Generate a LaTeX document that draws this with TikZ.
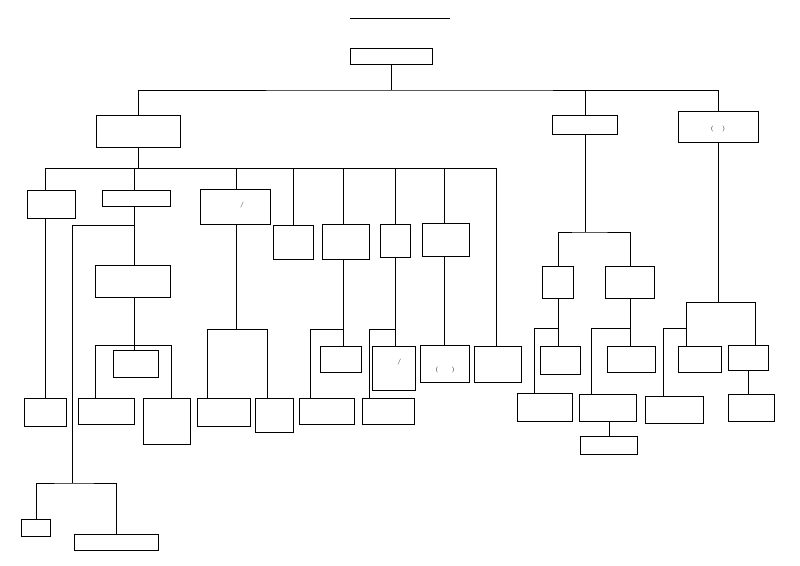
\documentclass[tikz,border=0pt]{standalone}
\begin{document}
\begin{tikzpicture}[x=0.03cm,y=-0.03cm,
  box/.style={draw,line width=0.6pt,fill=white,align=center,inner sep=1pt,font=\fontsize{5}{7}\selectfont},
  ln/.style={line width=0.6pt}]
\useasboundingbox (0,0) rectangle (800,566);
\newcommand\bx[5]{\node[box,minimum width={#3*0.03cm},minimum height={#4*0.03cm}] (#1) at (#2) {#5};}
\node[font=\fontsize{7}{8}\selectfont\bfseries] (title) at (400,18) {\underline{කෑගල්ල ප්‍රාදේශීය ලේකම් කාර්යාලයීය සංවිධාන සැලැස්ම}};
\bx{ds}{391,56}{82}{16}{ප්‍රාදේශීය ලේකම්}
\bx{ads}{138,131}{84}{32}{සහකාර\\ප්‍රාදේශීය ලේකම්}
\bx{acc}{585,125}{65}{19}{ගණකාධිකාරී}
\bx{ad}{718,127}{80}{31}{සහකාර අධ්‍යක්ෂ\\(සැලසුම්)}
\bx{agn}{51,204}{48}{28}{පරිපාලන\\ග්‍රාම නිලධාරී}
\bx{ao}{136,198}{68}{16}{පරිපාලන නිලධාරී}
\bx{sam}{235,207}{70}{35}{මූලස්ථාන සමෘද්ධි\\කළමනාකරු /\\සමෘද්ධි කළමනාකරු}
\bx{tr}{293,242}{40}{34}{භාෂා\\පරිවර්තක}
\bx{adr}{346,242}{47}{35}{අතිරේක\\දිස්ත්‍රික්\\රෙජිස්ට්‍රාර්}
\bx{lo}{395,241}{30}{33}{ඉඩම්\\නිලධාරී}
\bx{sso}{446,240}{47}{33}{සමාජ සේවා\\නිලධාරී}
\bx{gn}{45,412}{42}{28}{ග්‍රාම\\නිලධාරී}
\bx{cmso}{133,281}{75}{32}{ප්‍රධාන කළමනාකරණ\\සේවා නිලධාරී}
\bx{dev1}{136,364}{45}{27}{සංවර්ධන\\නිලධාරී}
\bx{mso1}{106,411}{56}{26}{කළමනාකරණ\\සේවා නිලධාරී}
\bx{ict}{167,421}{47}{46}{තොරතුරු\\තාක්ෂණ හා\\සන්නිවේදන\\සහකාර}
\bx{ma}{224,412}{53}{28}{කළමනාකරණ\\සහකාර}
\bx{sdo}{274,415}{38}{34}{සමෘද්ධි\\සංවර්ධන\\නිලධාරී}
\bx{dev2}{341,359}{41}{26}{සංවර්ධන\\නිලධාරී}
\bx{mso2}{327,411}{55}{26}{කළමනාකරණ\\සේවා නිලධාරී}
\bx{dev3}{394,368}{43}{44}{සංවර්ධන\\නිලධාරී /\\ක්ෂේත්‍ර\\නිලධාරී}
\bx{mso3}{388,411}{52}{26}{කළමනාකරණ\\සේවා නිලධාරී}
\bx{dev4}{445,364}{49}{37}{සංවර්ධන\\නිලධාරී\\(සමාජසේවා)}
\bx{fo}{498,364}{47}{36}{ක්ෂේත්‍ර\\නිලධාරී}
\bx{el}{36,528}{29}{17}{විදුලි}
\bx{oa}{116,542}{84}{16}{කාර්යාල කාර්ය සහායක}
\bx{fa}{558,282}{31}{32}{මුදල්\\සහකාර}
\bx{po}{630,282}{49}{32}{විශ්‍රාම වැටුප්\\නිලධාරී}
\bx{dev5}{560,360}{40}{28}{සංවර්ධන\\නිලධාරී}
\bx{mso4}{545,407}{55}{28}{කළමනාකරණ\\සේවා නිලධාරී}
\bx{dev6}{631,359}{48}{26}{සංවර්ධන\\නිලධාරී}
\bx{mso5}{608,408}{57}{27}{කළමනාකරණ\\සේවා නිලධාරී}
\bx{clk}{609,445}{57}{18}{ලේඛන සහකාර}
\bx{dev7}{700,359}{43}{26}{සංවර්ධන\\නිලධාරී}
\bx{teo}{748,358}{40}{25}{කාර්මික\\නිලධාරී}
\bx{mso6}{674,410}{58}{27}{කළමනාකරණ\\සේවා නිලධාරී}
\bx{ta}{751,408}{46}{27}{තාක්ෂණික\\සහකාර}
\begin{scope}[on background layer/.style={}]
\end{scope}
% connectors
\coordinate (h1) at (391,90);
\draw[ln] (ds.south) -- (h1);
\draw[ln] (ads.north) |- (h1) -| (ad.north);
\draw[ln] (acc.north) -- (acc.north |- h1);
\coordinate (h2) at (138,168);
\draw[ln] (ads.south) -- (h2);
\draw[ln] (agn.north -| 45,0) |- (h2);
\draw[ln] (45,168) -- (496,168);
\draw[ln] (ao.north -| 134,0) -- (134,168);
\draw[ln] (sam.north -| 236,0) -- (236,168);
\draw[ln] (tr.north) -- (tr.north |- h2);
\draw[ln] (adr.north -| 343,0) -- (343,168);
\draw[ln] (lo.north) -- (lo.north |- h2);
\draw[ln] (sso.north -| 444,0) -- (444,168);
\draw[ln] (fo.north -| 496,0) -- (496,168);
\draw[ln] (agn.south -| 45,0) -- (gn.north);
\draw[ln] (ao.south -| 134,0) -- (cmso.north -| 134,0);
\coordinate (j1) at (134,225);
\coordinate (j2) at (72,483);
\draw[ln] (j1) -| (j2);
\draw[ln] (el.north) |- (j2) -| (oa.north);
\coordinate (j3) at (134,345);
\draw[ln] (cmso.south -| 134,0) -- (dev1.north -| 134,0);
\draw[ln] (mso1.north -| 95,0) |- (95,345) -- (171,345) -- (ict.north -| 171,0);
\draw[ln] (sam.south -| 236,0) -- (236,329);
\draw[ln] (ma.north -| 207,0) |- (207,329) -- (267,329) -- (sdo.north -| 267,0);
\draw[ln] (adr.south -| 343,0) -- (dev2.north -| 343,0);
\draw[ln] (mso2.north -| 310,0) |- (343,329);
\draw[ln] (lo.south) -- (dev3.north -| lo.south);
\draw[ln] (mso3.north -| 369,0) |- (395,329);
\draw[ln] (sso.south -| 444,0) -- (dev4.north -| 444,0);
\draw[ln] (acc.south) -- (acc.south |- 0,232);
\draw[ln] (fa.north) |- (585,232) -| (po.north);
\draw[ln] (fa.south) -- (dev5.north -| fa.south);
\draw[ln] (mso4.north -| 534,0) |- (558,328);
\draw[ln] (po.south) -- (dev6.north -| po.south);
\draw[ln] (mso5.north -| 591,0) |- (630,328);
\draw[ln] (mso5.south -| 609,0) -- (clk.north -| 609,0);
\draw[ln] (ad.south) -- (718,302);
\draw[ln] (dev7.north -| 686,0) |- (755,302) -- (teo.north -| 755,0);
\draw[ln] (mso6.north -| 663,0) |- (686,328);
\draw[ln] (teo.south) -- (ta.north -| teo.south);
\end{tikzpicture}
\end{document}
